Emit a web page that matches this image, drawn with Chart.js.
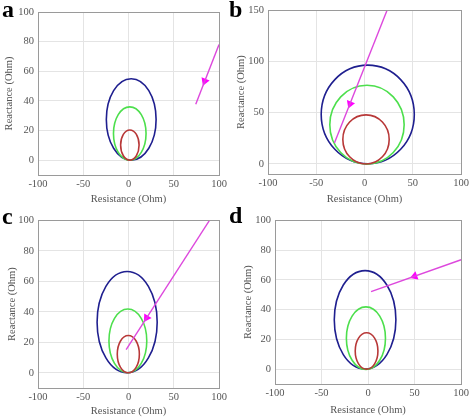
<!DOCTYPE html>
<html lang="en">
<head>
<meta charset="UTF-8">
<title>Impedance trajectories</title>
<script src="https://cdn.jsdelivr.net/npm/chart.js@4.4.1/dist/chart.umd.min.js"></script>
<style>
    body { margin: 0; background: #fff; }
    #wrap { position: relative; width: 472px; height: 419px; overflow: hidden; }
    .panel { position: absolute; }
    .tag {
        position: absolute;
        font: bold 24px 'Liberation Serif', serif;
        line-height: 24px;
        color: #000;
        z-index: 2;
    }
</style>
</head>
<body>
<div id="wrap">
    <canvas class="panel" id="chartA" width="236" height="210" style="left:0;top:0"></canvas>
    <canvas class="panel" id="chartB" width="236" height="210" style="left:236px;top:0"></canvas>
    <canvas class="panel" id="chartC" width="236" height="209" style="left:0;top:210px"></canvas>
    <canvas class="panel" id="chartD" width="236" height="209" style="left:236px;top:210px"></canvas>
    <div class="tag" style="left:2px;top:-3px">a</div>
    <div class="tag" style="left:229px;top:-3px">b</div>
    <div class="tag" style="left:2px;top:204px">c</div>
    <div class="tag" style="left:229px;top:203px">d</div>
</div>

<script>
    // tick labels
    const xTicks = [-100, -50, 0, 50, 100];
    const yTicksA = [0, 20, 40, 60, 80, 100];
    const yTicksB = [0, 50, 100, 150];
    const yTicksC = [0, 20, 40, 60, 80, 100];
    const yTicksD = [0, 20, 40, 60, 80, 100];

    // zone circles, outer -> inner: [centre R, centre X, radius] (Ohm)
    const circlesA = [[3, 27.5, 27.5], [1.4, 18, 18], [1.5, 10.2, 10.2]];
    const circlesB = [[3.3, 48.2, 48.2], [2.5, 38.2, 38.5], [1.5, 23.8, 24]];
    const circlesC = [[-1.5, 33.2, 33.2], [-0.7, 20.9, 20.9], [-0.2, 12.2, 12.2]];
    const circlesD = [[-3.2, 33.1, 33.1], [-2.3, 20.8, 21], [-1.6, 12.2, 12.2]];

    // impedance trajectory (end -> start) and arrow position
    const pathA = [{ x: 100, y: 78 }, { x: 74.3, y: 37.8 }];
    const pathB = [{ x: 23.3, y: 150 }, { x: -31.2, y: 20.4 }];
    const pathC = [{ x: 90, y: 100.4 }, { x: -2.6, y: 15.1 }];
    const pathD = [{ x: 100, y: 73.5 }, { x: 3.2, y: 52.1 }];
    const arrowA = [{ x: 84.2, y: 53.3 }];
    const arrowB = [{ x: -15, y: 58.5 }];
    const arrowC = [{ x: 20, y: 36 }];
    const arrowD = [{ x: 50, y: 62.4 }];

    const circleColors = ['#1f1f8f', '#4ddf4d', '#b83838'];
    const tickFont = { family: 'Liberation Serif', size: 10.5 };
    const titleFont = { family: 'Liberation Serif', size: 10.5, lineHeight: 1 };

    function makePanel(id, p) {
        const canvas = document.getElementById(id);
        const H = canvas.height;

        const drawings = {
            id: 'drawings',
            beforeDatasetsDraw(chart) {
                const { ctx, chartArea: a, scales: { x, y } } = chart;
                ctx.save();
                ctx.beginPath();
                ctx.rect(a.left, a.top, a.right - a.left, a.bottom - a.top);
                ctx.clip();
                ctx.lineWidth = 1.6;
                p.circles.forEach((c, i) => {
                    const cx = x.getPixelForValue(c[0]);
                    const cy = y.getPixelForValue(c[1]);
                    const rx = Math.abs(x.getPixelForValue(c[0] + c[2]) - cx);
                    const ry = Math.abs(y.getPixelForValue(c[1] + c[2]) - cy);
                    ctx.strokeStyle = circleColors[i];
                    ctx.beginPath();
                    ctx.ellipse(cx, cy, rx, ry, 0, 0, Math.PI * 2);
                    ctx.stroke();
                });
                ctx.restore();
            },
            afterDraw(chart) {
                const { ctx, chartArea: a } = chart;
                ctx.save();
                ctx.strokeStyle = '#9a9a9a';
                ctx.lineWidth = 1;
                ctx.strokeRect(Math.round(a.left) + 0.5, Math.round(a.top) + 0.5,
                    Math.round(a.right - a.left), Math.round(a.bottom - a.top));
                ctx.restore();
            }
        };

        return new Chart(canvas, {
            type: 'scatter',
            data: {
                datasets: [
                    { data: p.path, showLine: true, borderColor: '#dd48dd', borderWidth: 1.4, pointRadius: 0 },
                    { data: p.arrow, pointStyle: 'triangle', rotation: p.rot, pointRadius: 5,
                      backgroundColor: '#ff00ff', borderColor: '#ff00ff', borderWidth: 0 }
                ]
            },
            options: {
                responsive: false,
                animation: false,
                events: [],
                layout: { padding: { left: 0, right: 236 - p.right, top: p.top, bottom: 0 } },
                plugins: { legend: { display: false }, tooltip: { enabled: false } },
                scales: {
                    x: {
                        type: 'linear', min: -100, max: 100,
                        afterBuildTicks: s => { s.ticks = xTicks.map(v => ({ value: v })); },
                        afterFit: s => { s.height = H - p.bottom; },
                        grid: { color: '#e4e4e4', drawTicks: false },
                        border: { display: false },
                        ticks: { color: '#555', font: tickFont, padding: 3, maxRotation: 0 },
                        title: { display: true, text: 'Resistance (Ohm)', color: '#555', font: titleFont,
                                 padding: { top: 0, bottom: p.xPad } }
                    },
                    y: {
                        type: 'linear', min: -10, max: p.yMax,
                        afterBuildTicks: s => { s.ticks = p.yTicks.map(v => ({ value: v })); },
                        afterFit: s => { s.width = p.left; },
                        grid: { color: '#e4e4e4', drawTicks: false },
                        border: { display: false },
                        ticks: { color: '#555', font: tickFont, padding: 4 },
                        title: { display: true, text: 'Reactance (Ohm)', color: '#555', font: titleFont,
                                 padding: { top: p.yPad, bottom: 0 } }
                    }
                }
            },
            plugins: [drawings]
        });
    }

    makePanel('chartA', { circles: circlesA, path: pathA, arrow: arrowA, rot: 201, yTicks: yTicksA, yMax: 100,
        left: 38, right: 219, top: 12, bottom: 175, xPad: 5.5, yPad: 4 });
    makePanel('chartB', { circles: circlesB, path: pathB, arrow: arrowB, rot: 201, yTicks: yTicksB, yMax: 150,
        left: 32, right: 227, top: 7, bottom: 174, xPad: 5.5, yPad: 0 });
    makePanel('chartC', { circles: circlesC, path: pathC, arrow: arrowC, rot: 212, yTicks: yTicksC, yMax: 100,
        left: 38, right: 219, top: 9, bottom: 178, xPad: 2.5, yPad: 6.5 });
    makePanel('chartD', { circles: circlesD, path: pathD, arrow: arrowD, rot: 250, yTicks: yTicksD, yMax: 100,
        left: 39, right: 227, top: 9, bottom: 174, xPad: 3.5, yPad: 6.5 });
</script>
</body>
</html>
